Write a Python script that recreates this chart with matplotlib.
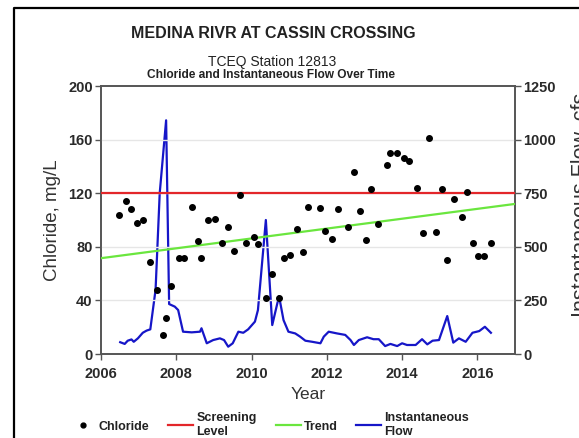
import matplotlib
matplotlib.use("Agg")
import matplotlib.pyplot as plt
from matplotlib.lines import Line2D

plt.rcParams['font.family'] = ['Liberation Sans', 'DejaVu Sans']

# Chloride grab samples (decimal year, mg/L)
chloride_year = [2006.47, 2006.67, 2006.79, 2006.95, 2007.11, 2007.30, 2007.50, 2007.65,
                 2007.72, 2007.86, 2008.07, 2008.21, 2008.42, 2008.58, 2008.67, 2008.85,
                 2009.03, 2009.22, 2009.37, 2009.54, 2009.69, 2009.85, 2010.07, 2010.17,
                 2010.39, 2010.54, 2010.74, 2010.85, 2011.03, 2011.21, 2011.38, 2011.51,
                 2011.83, 2011.94, 2012.14, 2012.31, 2012.55, 2012.71, 2012.89, 2013.05,
                 2013.18, 2013.35, 2013.59, 2013.69, 2013.87, 2014.05, 2014.18, 2014.39,
                 2014.56, 2014.72, 2014.89, 2015.05, 2015.20, 2015.37, 2015.58, 2015.73,
                 2015.89, 2016.03, 2016.17, 2016.37]
chloride_mgl = [104, 114, 108, 98, 100, 69, 48, 14,
                27, 51, 72, 72, 110, 84, 72, 100,
                101, 83, 95, 77, 119, 83, 87, 82,
                42, 60, 42, 72, 74, 93, 76, 110,
                109, 92, 86, 108, 95, 136, 107, 85,
                123, 97, 141, 150, 150, 146, 144, 124,
                90, 161, 91, 123, 70, 116, 102, 121,
                83, 73, 73, 83]

# Instantaneous flow measurements (decimal year, cfs)
flow_year = [2006.51, 2006.63, 2006.71, 2006.81, 2006.87, 2006.98, 2007.11, 2007.21,
             2007.31, 2007.45, 2007.56, 2007.73, 2007.81, 2007.96, 2008.05, 2008.18,
             2008.41, 2008.63, 2008.67, 2008.81, 2008.98, 2009.16, 2009.27, 2009.38,
             2009.50, 2009.65, 2009.78, 2009.91, 2010.09, 2010.17, 2010.38, 2010.55,
             2010.73, 2010.85, 2010.98, 2011.16, 2011.29, 2011.43, 2011.61, 2011.83,
             2011.92, 2012.05, 2012.27, 2012.49, 2012.63, 2012.72, 2012.85, 2013.07,
             2013.24, 2013.38, 2013.55, 2013.69, 2013.87, 2014.00, 2014.13, 2014.36,
             2014.53, 2014.67, 2014.81, 2014.98, 2015.20, 2015.36, 2015.51, 2015.69,
             2015.87, 2016.05, 2016.20, 2016.36]
flow_cfs = [55, 47, 62, 68, 57, 73, 99, 109,
            115, 300, 750, 1090, 233, 221, 205, 104,
            101, 104, 120, 50, 65, 73, 65, 34,
            50, 104, 99, 115, 151, 205, 625, 135,
            270, 158, 104, 96, 81, 62, 57, 50,
            81, 104, 96, 89, 65, 42, 65, 78,
            69, 69, 37, 47, 37, 50, 42, 42,
            69, 45, 62, 65, 177, 53, 73, 57,
            99, 107, 127, 99]

screening_level = 120
trend_years = [2006, 2017]
trend_values = [71.5, 112]

x_ticks = [2006, 2008, 2010, 2012, 2014, 2016]
y_left_ticks = [0, 40, 80, 120, 160, 200]
y_right_ticks = [0, 250, 500, 750, 1000, 1250]

RED = '#e3262a'
GREEN = '#6ae63e'
BLUE = '#1616c8'
SPINE = '#555555'
TICKTXT = '#2a2a2a'

W, H = 579, 438
fig = plt.figure(figsize=(W / 100, H / 100), dpi=100)
fig.patch.set_facecolor('white')

ax = fig.add_axes([101 / W, 1 - 354 / H, (515 - 101) / W, (354 - 86) / H])
ax2 = ax.twinx()

ax.set_zorder(ax2.get_zorder() + 1)
ax.patch.set_visible(False)

# flow on the secondary axis
ax2.plot(flow_year, flow_cfs, color=BLUE, lw=1.6, zorder=2)
ax2.set_ylim(0, 1250)
ax2.set_yticks(y_right_ticks)

# gridlines
for v in y_left_ticks[1:-1]:
    ax.axhline(v, color='#e6e6e6', lw=1.0, zorder=0)

ax.axhline(screening_level, color=RED, lw=1.6, zorder=3)
ax.plot(trend_years, trend_values, color=GREEN, lw=1.6, zorder=3)
ax.plot(chloride_year, chloride_mgl, 'o', color='black', ms=4, zorder=4)

ax.set_xlim(2006, 2017)
ax.set_ylim(0, 200)
ax.set_xticks(x_ticks)
ax.set_yticks(y_left_ticks)

for a in (ax, ax2):
    for s in a.spines.values():
        s.set_color(SPINE)
        s.set_linewidth(1.2)
    a.tick_params(direction='out', length=4, width=1.0, color=SPINE,
                  labelsize=10.5, labelcolor=TICKTXT, pad=2)
    for lab in a.get_xticklabels() + a.get_yticklabels():
        lab.set_fontweight('bold')
ax.tick_params(axis='x', pad=5)

ax.set_xlabel('Year', fontsize=12.5, color='#333333', labelpad=5)
ax.set_ylabel('Chloride, mg/L', fontsize=13.5, color='#333333')
ax.yaxis.set_label_coords((61 - 101) / (515 - 101), 0.5)
ax2.set_ylabel('Instantaneous Flow, cfs', fontsize=15.5, color='#333333')
ax2.yaxis.set_label_coords((571 - 101) / (515 - 101), (354 - 205) / (354 - 86))

# titles
fig.text(273 / W, 1 - 33 / H, 'MEDINA RIVR AT CASSIN CROSSING', ha='center', va='center',
         fontsize=11.5, fontweight='bold', color='#222222')
fig.text(272 / W, 1 - 62 / H, 'TCEQ Station 12813', ha='center', va='center',
         fontsize=10, color='#222222')
fig.text(271 / W, 1 - 75 / H, 'Chloride and Instantaneous Flow Over Time', ha='center',
         va='center', fontsize=8.6, fontweight='bold', color='#222222')

# legend
handles = [
    Line2D([], [], marker='o', ls='none', color='black', ms=3.5),
    Line2D([], [], color=RED, lw=1.6),
    Line2D([], [], color=GREEN, lw=1.6),
    Line2D([], [], color=BLUE, lw=1.6),
]
labels = ['Chloride', 'Screening\nLevel', 'Trend', 'Instantaneous\nFlow']
leg = fig.legend(handles, labels, loc='center', bbox_to_anchor=(270 / W, 1 - 425 / H),
                 ncol=4, frameon=False, fontsize=9, handlelength=2.0,
                 handletextpad=0.25, columnspacing=1.5, borderaxespad=0)
for t in leg.get_texts():
    t.set_fontweight('bold')
    t.set_color('#222222')
    t.set_linespacing(1.2)

# outer frame (left and top edges)
fig.add_artist(Line2D([14 / W, 14 / W, 1.0], [0, 1 - 7.5 / H, 1 - 7.5 / H],
                      transform=fig.transFigure, color='black', lw=1.6))

fig.savefig('out.png', dpi=100)
